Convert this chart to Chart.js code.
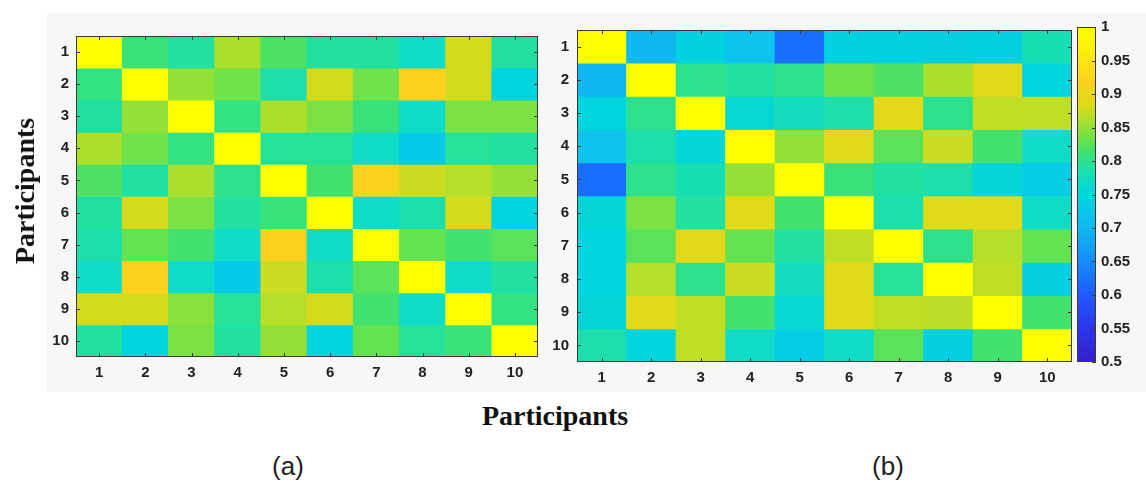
<!DOCTYPE html>
<html>
<head>
<meta charset="utf-8">
<script src="https://cdn.jsdelivr.net/npm/chart.js@4.4.0/dist/chart.umd.min.js"></script>
<style>
  body { margin: 0; width: 1146px; height: 485px; background: #fff; position: relative; overflow: hidden; }
  #panel { position: absolute; left: 47px; top: 13px; width: 1099px; height: 379px; background: #f7f7f7; }
  canvas { position: absolute; }
  .txt { position: absolute; transform: translate(-50%, -50%); white-space: nowrap; color: #111; }
  .title { font: bold 28px "Liberation Serif", "Times New Roman", serif; }
  .sub { font: 26px "Liberation Sans", Arial, sans-serif; color: #222; }
</style>
</head>
<body>
<div id="panel"></div>
<canvas id="chartA" width="500" height="372" style="left:40px; top:20px;"></canvas>
<canvas id="chartB" width="535" height="379" style="left:540px; top:13px;"></canvas>
<canvas id="cbar" width="76" height="379" style="left:1070px; top:13px;"></canvas>

<div class="txt title" style="left:25px; top:191px; transform: translate(-50%, -50%) rotate(-90deg);">Participants</div>
<div class="txt title" style="left:555px; top:416px;">Participants</div>
<div class="txt sub" style="left:288px; top:466px;">(a)</div>
<div class="txt sub" style="left:888px; top:466px;">(b)</div>

<script>
// Участники (строки и столбцы)
const participants = ['1', '2', '3', '4', '5', '6', '7', '8', '9', '10'];

// (a) матрица сходства, строка за строкой сверху вниз
const matrixA = [
    [1, 0.81, 0.79, 0.86, 0.82, 0.79, 0.79, 0.77, 0.88, 0.79],
    [0.805, 1, 0.85, 0.835, 0.785, 0.88, 0.835, 0.92, 0.88, 0.75],
    [0.79, 0.85, 1, 0.805, 0.86, 0.84, 0.81, 0.77, 0.84, 0.84],
    [0.86, 0.835, 0.805, 1, 0.795, 0.795, 0.77, 0.73, 0.795, 0.79],
    [0.82, 0.79, 0.86, 0.80, 1, 0.815, 0.92, 0.875, 0.865, 0.85],
    [0.79, 0.88, 0.84, 0.79, 0.81, 1, 0.77, 0.785, 0.88, 0.75],
    [0.785, 0.83, 0.815, 0.77, 0.92, 0.77, 1, 0.83, 0.815, 0.825],
    [0.77, 0.92, 0.77, 0.73, 0.875, 0.785, 0.825, 1, 0.77, 0.79],
    [0.88, 0.88, 0.845, 0.795, 0.865, 0.88, 0.815, 0.77, 1, 0.805],
    [0.79, 0.75, 0.84, 0.79, 0.85, 0.75, 0.83, 0.795, 0.81, 1]
];

// (b) матрица сходства
const matrixB = [
    [1, 0.70, 0.745, 0.72, 0.62, 0.745, 0.745, 0.74, 0.745, 0.78],
    [0.70, 1, 0.80, 0.79, 0.80, 0.835, 0.82, 0.86, 0.885, 0.75],
    [0.75, 0.80, 1, 0.76, 0.775, 0.785, 0.89, 0.80, 0.87, 0.87],
    [0.72, 0.785, 0.755, 1, 0.85, 0.885, 0.825, 0.875, 0.815, 0.77],
    [0.62, 0.80, 0.78, 0.85, 1, 0.81, 0.79, 0.785, 0.755, 0.735],
    [0.755, 0.84, 0.79, 0.885, 0.815, 1, 0.785, 0.885, 0.885, 0.77],
    [0.75, 0.825, 0.89, 0.83, 0.79, 0.87, 1, 0.80, 0.865, 0.83],
    [0.75, 0.865, 0.80, 0.875, 0.775, 0.885, 0.795, 1, 0.87, 0.74],
    [0.755, 0.885, 0.87, 0.815, 0.76, 0.885, 0.87, 0.868, 1, 0.815],
    [0.785, 0.75, 0.87, 0.77, 0.735, 0.77, 0.825, 0.74, 0.815, 1]
];

// Шкала цветовой полосы
const colorbarRange = [0.5, 1];
const colorbarTicks = [0.5, 0.55, 0.6, 0.65, 0.7, 0.75, 0.8, 0.85, 0.9, 0.95, 1];

// Цветовая карта (похожа на parula)
const colorStops = [
    [0.50, [52, 32, 200]],
    [0.55, [44, 54, 236]],
    [0.60, [34, 88, 255]],
    [0.62, [26, 110, 255]],
    [0.66, [22, 148, 250]],
    [0.70, [16, 184, 240]],
    [0.72, [12, 196, 236]],
    [0.74, [4, 208, 226]],
    [0.75, [0, 212, 220]],
    [0.77, [16, 220, 200]],
    [0.79, [32, 224, 162]],
    [0.81, [56, 226, 120]],
    [0.83, [100, 226, 80]],
    [0.85, [148, 224, 54]],
    [0.87, [192, 222, 36]],
    [0.885, [224, 218, 24]],
    [0.92, [250, 210, 30]],
    [0.96, [252, 236, 16]],
    [1.00, [255, 255, 0]]
];

function colorFor(v) {
    if (v <= colorStops[0][0]) return rgb(colorStops[0][1]);
    for (let i = 1; i < colorStops.length; i++) {
        const [v1, c1] = colorStops[i];
        const [v0, c0] = colorStops[i - 1];
        if (v <= v1) {
            const t = (v - v0) / (v1 - v0);
            return rgb(c0.map((c, k) => c + (c1[k] - c) * t));
        }
    }
    return rgb(colorStops[colorStops.length - 1][1]);
}

function rgb(c) {
    return `rgb(${Math.round(c[0])}, ${Math.round(c[1])}, ${Math.round(c[2])})`;
}

const tickFont = { family: '"Liberation Sans", Arial, sans-serif', size: 15, weight: 'bold' };
const tickColor = '#222';

// Рамка и внутренние засечки как в MATLAB
const framePlugin = {
    id: 'frame',
    afterDatasetsDraw(chart, args, opts) {
        const { ctx, chartArea: a } = chart;
        const len = 4;
        ctx.save();
        ctx.strokeStyle = '#3a3a3a';
        ctx.lineWidth = 1;
        ctx.beginPath();
        (opts.axes || []).forEach(id => {
            const s = chart.scales[id];
            s.ticks.forEach((t, i) => {
                const p = Math.round(s.getPixelForTick(i)) + 0.5;
                if (s.isHorizontal()) {
                    ctx.moveTo(p, a.top); ctx.lineTo(p, a.top + len);
                    ctx.moveTo(p, a.bottom); ctx.lineTo(p, a.bottom - len);
                } else {
                    if (opts.leftTicks !== false) { ctx.moveTo(a.left, p); ctx.lineTo(a.left + len, p); }
                    ctx.moveTo(a.right, p); ctx.lineTo(a.right - len, p);
                }
            });
        });
        ctx.stroke();
        ctx.strokeRect(Math.round(a.left) + 0.5, Math.round(a.top) + 0.5,
            Math.round(a.right - a.left) - 1, Math.round(a.bottom - a.top) - 1);
        ctx.restore();
    }
};

function makeHeatmap(canvasId, matrix, layout) {
    // каждая строка — набор плавающих столбиков [r, r+1]
    const datasets = matrix.map((row, r) => ({
        label: participants[r],
        data: row.map(() => [r, r + 1]),
        backgroundColor: row.map(v => colorFor(v)),
        borderWidth: 0,
        grouped: false,
        barPercentage: 1,
        categoryPercentage: 1
    }));

    return new Chart(document.getElementById(canvasId), {
        type: 'bar',
        data: { labels: participants, datasets },
        options: {
            responsive: false,
            animation: false,
            layout: { padding: layout.padding },
            plugins: {
                legend: { display: false },
                tooltip: { enabled: false },
                frame: { axes: ['x', 'y'] }
            },
            scales: {
                x: {
                    grid: { display: false, drawTicks: false },
                    border: { display: false },
                    ticks: { font: tickFont, color: tickColor, padding: layout.xPad, maxRotation: 0 },
                    afterFit: s => { s.height = layout.xHeight; }
                },
                y: {
                    min: 0,
                    max: participants.length,
                    reverse: true,
                    grid: { display: false, drawTicks: false },
                    border: { display: false },
                    ticks: {
                        font: tickFont, color: tickColor, padding: layout.yPad,
                        autoSkip: false,
                        callback: v => participants[Math.floor(v)]
                    },
                    afterBuildTicks: s => {
                        s.ticks = participants.map((p, i) => ({ value: i + 0.5 }));
                    },
                    afterFit: s => { s.width = layout.yWidth; }
                }
            }
        },
        plugins: [framePlugin]
    });
}

makeHeatmap('chartA', matrixA, {
    padding: { top: 11, right: 2, left: 0, bottom: 0 },
    xHeight: 35, yWidth: 36, xPad: 7, yPad: 7
});

makeHeatmap('chartB', matrixB, {
    padding: { top: 8, right: 3, left: 0, bottom: 0 },
    xHeight: 30, yWidth: 37, xPad: 7, yPad: 8
});

// Цветовая полоса
new Chart(document.getElementById('cbar'), {
    type: 'bar',
    data: {
        labels: [''],
        datasets: [{
            data: [colorbarRange],
            borderWidth: 0,
            barPercentage: 1,
            categoryPercentage: 1,
            backgroundColor: c => {
                const chart = c.chart;
                if (!chart.chartArea) return null;
                const y = chart.scales.y;
                const g = chart.ctx.createLinearGradient(0, y.getPixelForValue(colorbarRange[0]), 0, y.getPixelForValue(colorbarRange[1]));
                colorStops.forEach(([v, col]) => {
                    g.addColorStop((v - colorbarRange[0]) / (colorbarRange[1] - colorbarRange[0]), rgb(col));
                });
                return g;
            }
        }]
    },
    options: {
        responsive: false,
        animation: false,
        layout: { padding: { top: 7, left: 7, bottom: 30, right: 0 } },
        plugins: {
            legend: { display: false },
            tooltip: { enabled: false },
            frame: { axes: ['y'], leftTicks: false }
        },
        scales: {
            x: { display: false },
            y: {
                position: 'right',
                min: colorbarRange[0],
                max: colorbarRange[1],
                grid: { display: false, drawTicks: false },
                border: { display: false },
                ticks: {
                    font: tickFont, color: tickColor, padding: 5, autoSkip: false,
                    callback: v => String(+v.toFixed(2))
                },
                afterBuildTicks: s => {
                    s.ticks = colorbarTicks.map(v => ({ value: v }));
                },
                afterFit: s => { s.width = 50; }
            }
        }
    },
    plugins: [framePlugin]
});
</script>
</body>
</html>
